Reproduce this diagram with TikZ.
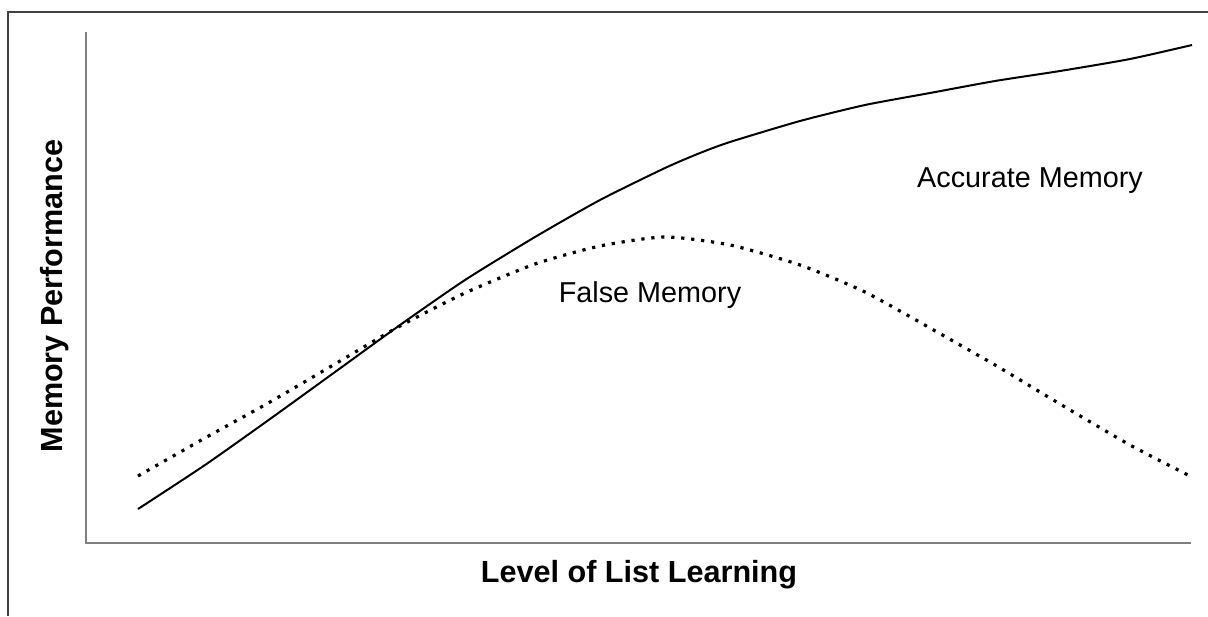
\documentclass[tikz,border=0pt]{standalone}
\usepackage{fontspec}
\setmainfont{Liberation Sans}
\begin{document}
\begin{tikzpicture}[x=0.5pt,y=-0.5pt,
  frame/.style={draw=black!75,line width=1pt},
  axis/.style={draw=black!50,line width=0.8pt},
  accurate/.style={draw=black,line width=1pt,line join=round},
  falsemem/.style={draw=black,line width=1.6pt,dash pattern=on 1.6pt off 3.4pt},
  lbl/.style={font=\fontsize{14.4pt}{17pt}\selectfont,anchor=base,inner sep=0pt},
  axlbl/.style={font=\fontsize{15.3pt}{18pt}\selectfont\bfseries,anchor=base,inner sep=0pt}]
\useasboundingbox (0,0) rectangle (1208,616);
\fill[white] (0,0) rectangle (1208,616);
% outer frame
\draw[frame] (8,616) -- (8,12) -- (1208,12);
% axes
\coordinate (ytop) at (86,32);
\coordinate (orig) at (86,543);
\coordinate (xend) at (1191,543);
\draw[axis] (ytop) -- (orig) -- (xend);
% accurate memory curve
\draw[accurate] plot[smooth,tension=0.4] coordinates {
 (138,509) (205,465) (270,419) (335,372) (400,325) (465,280) (535,237)
 (600,200) (665,168) (700,153) (730,142) (800,121) (865,105) (930,93)
 (995,81) (1060,71) (1130,59) (1192,45)};
% false memory curve
\draw[falsemem] plot[smooth,tension=0.4] coordinates {
 (138,476) (205,438) (270,402) (335,364) (400,326) (465,293) (535,264)
 (600,246) (665,237) (730,245) (800,265) (865,292) (930,328) (995,365)
 (1060,404) (1130,445) (1190,476)};
% labels
\node[lbl] (acc) at (1030,187) {Accurate Memory};
\node[lbl] (fal) at (650,302) {False Memory};
\node[axlbl] (xl) at (639,582) {Level of List Learning};
\node[axlbl,rotate=90] (yl) at (62,296) {Memory Performance};
\end{tikzpicture}
\end{document}
